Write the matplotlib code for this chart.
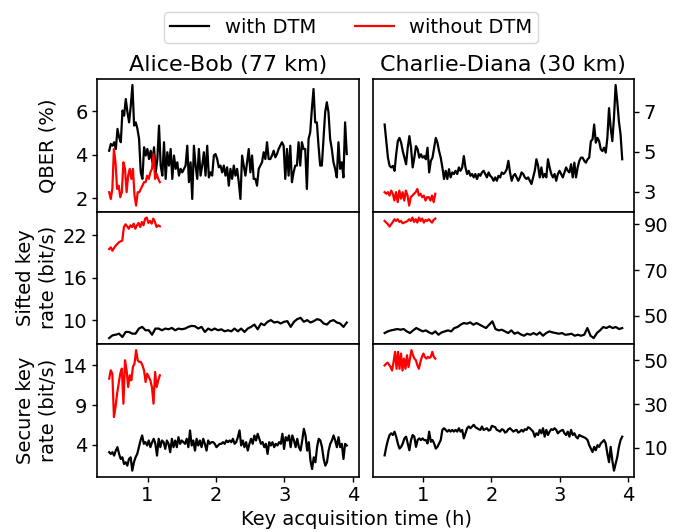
import numpy as np
import matplotlib
matplotlib.use("Agg")
import matplotlib.pyplot as plt

# QBER (%)
qber_ab_dtm = [4.18, 4.49, 4.41, 4.57, 4.26, 5.18, 4.79, 4.57, 6.02, 5.79, 6.55, 5.94, 5.48, 6.24, 7.19,
               5.33, 5.48, 5.18, 4.72, 3.19, 2.89, 4.34, 3.96, 4.26, 3.80, 4.18, 3.65, 4.34, 3.19, 3.80,
               5.33, 3.50, 3.04, 4.57, 2.89, 4.11, 3.50, 4.26, 2.89, 3.96, 3.35, 3.65, 3.04, 3.35, 3.19,
               3.35, 3.50, 4.41, 2.74, 3.65, 1.97, 4.41, 3.50, 2.89, 4.26, 3.04, 3.50, 4.11, 3.04, 4.41,
               2.96, 3.19, 3.04, 3.96, 4.03, 3.80, 3.42, 3.50, 3.19, 3.50, 3.04, 3.42, 2.58,
               3.35, 2.89, 3.50, 3.04, 3.35, 2.74, 1.97, 3.96, 3.50, 3.04, 3.65, 4.26, 3.19, 3.96, 2.89,
               2.89, 2.58, 3.35, 3.50, 3.65, 4.11, 3.80, 4.57, 3.80, 3.80, 3.96, 4.18, 3.88, 4.03, 4.26,
               4.41, 4.57, 4.41, 2.89, 4.26, 3.04, 4.41, 2.74, 3.19, 3.50, 3.50, 4.57, 3.50, 4.57, 4.26,
               4.26, 2.43, 4.72, 5.02, 6.09, 7.01, 5.48, 5.48, 4.41, 3.50, 3.50, 4.72, 5.94, 6.40, 5.94,
               4.72, 4.26, 3.65, 3.35, 2.96, 4.57, 3.35, 3.65, 2.96, 5.48, 4.03]
qber_ab_no = [2.28, 1.97, 2.43, 4.26, 3.65, 2.43, 2.58, 2.05, 2.28, 3.65, 3.35, 2.28, 3.04, 3.35, 2.89,
              3.35, 2.13, 1.67, 2.28, 2.28, 2.43, 2.58, 2.74, 2.74, 3.04, 2.89, 3.19, 3.35, 4.03, 2.89,
              3.12, 2.89, 2.74]
qber_cd_dtm = [6.36, 5.53, 4.70, 4.29, 4.21, 4.29, 4.04, 4.87, 5.53, 5.69, 5.45, 5.03, 4.70, 4.37, 5.20,
               5.78, 5.20, 4.21, 4.70, 5.28, 5.12, 4.70, 4.87, 4.70, 4.78, 4.62, 5.20, 3.96, 4.54, 4.70,
               5.20, 5.69, 5.45, 5.03, 4.70, 4.21, 3.63, 4.04, 3.63, 4.12, 3.71, 3.96, 3.88, 4.04, 3.88,
               4.21, 4.04, 4.21, 4.78, 4.21, 3.88, 4.04, 3.79, 3.88, 3.71, 3.88, 3.63, 3.88, 3.79, 3.96,
               4.04, 3.88, 3.71, 3.96, 3.79, 3.71, 3.54, 3.71, 3.54, 3.79, 3.71, 3.96, 3.88, 3.96,
               4.12, 4.54, 3.96, 3.54, 3.79, 3.88, 3.71, 3.54, 3.71, 3.96, 3.88, 3.71, 3.63, 3.71, 3.54,
               3.38, 3.71, 4.04, 4.62, 4.29, 3.71, 4.21, 3.71, 3.88, 3.71, 4.62, 4.21, 3.88, 3.71, 3.88,
               3.54, 3.88, 4.04, 3.88, 3.71, 3.96, 4.21, 4.04, 3.96, 4.37, 3.71, 4.45, 3.71, 4.21, 4.54,
               4.70, 4.70, 4.54, 4.45, 4.62, 4.70, 5.53, 5.61, 6.36, 5.45, 5.69, 5.53, 5.12, 5.03, 5.20,
               4.95, 5.69, 7.18, 6.19, 5.53, 6.69, 8.34, 7.51, 6.52, 5.86, 4.62]
qber_cd_no = [2.97, 2.89, 2.97, 2.80, 3.05, 2.89, 2.55, 2.97, 2.47, 3.05, 2.64, 2.97, 2.55, 3.05, 2.80,
              2.30, 2.72, 2.80, 2.89, 2.97, 3.13, 2.80, 2.89, 2.72, 2.80, 2.55, 2.72, 2.72, 2.55, 2.80,
              2.47, 2.89]

# Sifted key rate (bit/s)
sifted_ab_dtm = [7.45, 7.84, 7.93, 8.08, 7.60, 8.32, 8.32, 8.08, 8.08, 8.80, 9.04, 8.56, 8.56, 7.93, 8.80,
                 8.80, 8.56, 8.80, 8.70, 8.89, 8.56, 8.80, 8.70, 8.80, 9.04, 9.18, 9.13, 8.80, 9.04, 8.32,
                 8.80, 8.56, 8.80, 8.56, 8.70, 8.41, 8.56, 8.41, 8.80, 8.41, 8.80, 8.32, 8.80, 9.04, 9.37,
                 8.70, 9.52, 9.28, 9.76, 10.00, 9.66, 9.76, 9.52, 9.76, 9.85, 9.04, 9.76, 10.14, 10.33, 9.76,
                 10.00, 9.66, 9.85, 10.14, 10.00, 9.52, 9.37, 9.85, 10.00, 9.66, 9.52, 9.04, 9.66]
sifted_ab_no = [20.08, 20.32, 19.84, 20.22, 20.56, 20.80, 21.04, 21.18, 21.28, 23.20, 23.58, 23.30, 22.96,
                23.44, 23.20, 23.68, 22.96, 23.44, 23.78, 23.20, 23.92, 23.44, 24.40, 24.54, 23.78, 24.06,
                23.68, 24.40, 23.92, 23.20, 23.44, 23.30]
sifted_cd_dtm = [42.49, 43.22, 43.66, 43.95, 44.24, 43.95, 44.24, 43.22, 42.49, 43.66, 44.68, 43.95, 43.22,
                 43.66, 42.78, 42.19, 43.22, 41.75, 42.78, 43.22, 43.66, 43.22, 44.68, 45.12, 46.14, 46.87,
                 46.58, 47.16, 46.14, 46.87, 46.14, 45.41, 44.68, 46.14, 47.60, 44.24, 43.66, 43.95, 43.22,
                 42.49, 43.66, 42.19, 42.78, 41.90, 41.32, 42.19, 41.75, 42.49, 41.75, 42.78, 41.32, 42.49,
                 43.22, 42.78, 42.49, 42.19, 42.49, 41.75, 41.90, 42.19, 41.32, 41.75, 41.32, 41.75, 44.68,
                 41.32, 40.29, 42.49, 43.66, 45.12, 44.68, 45.41, 44.68, 45.12, 44.24, 44.68]
sifted_cd_no = [91.46, 90.73, 90.00, 88.98, 90.00, 91.02, 92.19, 91.46, 92.19, 91.02, 91.46, 90.44, 90.73,
                91.02, 91.46, 92.19, 91.46, 92.92, 91.02, 92.19, 90.73, 92.92, 91.46, 92.49, 90.73, 91.90,
                91.46, 92.19, 91.46, 90.73, 91.90, 92.49]

# Secure key rate (bit/s)
secure_ab_dtm = [3.08, 2.86, 3.08, 2.65, 3.28, 3.71, 2.86, 2.23, 2.44, 1.60, 1.81, 1.39, 2.23, 2.44, 0.76,
                 1.81, 2.44, 2.86, 3.71, 4.55, 5.18, 4.13, 4.34, 3.92, 4.55, 3.71, 4.34, 4.76, 4.13, 2.65,
                 4.76, 3.71, 4.55, 4.34, 3.49, 4.55, 4.13, 3.08, 4.76, 3.71, 4.55, 3.71, 4.97, 4.13, 4.55,
                 4.34, 4.13, 4.76, 3.71, 5.81, 3.92, 4.55, 3.28, 4.76, 3.92, 4.55, 3.71, 4.76, 4.13, 3.28,
                 4.55, 4.13, 4.34, 4.34, 4.13, 3.71, 3.92, 4.13, 4.13, 4.34, 4.13, 4.55, 4.34,
                 4.55, 4.34, 4.76, 4.13, 4.34, 4.97, 5.81, 3.92, 4.55, 3.71, 4.34, 3.28, 4.13, 4.76, 4.13,
                 5.18, 4.55, 5.39, 4.76, 4.13, 4.34, 3.71, 4.13, 2.86, 4.34, 3.92, 4.34, 3.71, 4.13, 3.92,
                 4.34, 4.13, 5.39, 3.49, 4.97, 4.55, 5.18, 3.71, 5.18, 4.55, 3.71, 4.76, 3.71, 3.28, 4.55,
                 6.02, 5.18, 3.28, 4.34, 2.02, 0.97, 2.44, 1.81, 3.71, 4.76, 4.55, 3.71, 2.23, 1.39, 1.81,
                 3.28, 4.13, 4.55, 5.18, 4.55, 3.71, 4.97, 3.71, 4.13, 2.23, 4.13, 3.92]
secure_ab_no = [12.32, 13.37, 12.95, 7.49, 8.75, 10.43, 11.69, 12.95, 13.58, 9.17, 14.63, 13.37, 11.27,
                12.74, 12.11, 13.79, 14.21, 15.90, 14.63, 14.42, 14.42, 14.00, 13.37, 11.90, 12.95, 12.53,
                12.11, 11.27, 9.17, 13.16, 11.27, 12.11, 12.74]
secure_cd_dtm = [6.60, 10.48, 13.58, 15.90, 16.68, 15.90, 17.45, 15.13, 12.03, 9.70, 10.48, 12.03, 14.35,
                 15.13, 12.03, 8.93, 13.58, 15.90, 15.13, 10.48, 13.58, 14.35, 13.58, 14.35, 13.58, 13.58,
                 12.03, 17.45, 12.80, 13.58, 12.03, 9.70, 10.48, 12.03, 13.58, 18.23, 19.00, 18.23, 17.45,
                 18.23, 17.45, 18.23, 17.45, 18.23, 17.45, 19.00, 17.45, 18.23, 14.35, 16.68, 19.00, 19.78,
                 19.00, 19.78, 20.56, 19.47, 19.00, 18.54, 18.23, 19.78, 18.23, 18.54, 19.00, 17.92, 18.23,
                 20.09, 19.78, 19.47, 18.23, 17.92, 17.45, 18.54, 18.23, 16.99, 17.45, 18.54, 19.00, 18.23,
                 17.45, 17.92, 18.23, 16.99, 17.45, 18.23, 17.45, 18.54, 18.23, 19.47, 19.00, 18.23, 17.45,
                 15.13, 16.68, 15.90, 18.23, 16.68, 19.00, 15.13, 18.23, 15.90, 17.45, 18.54, 18.23, 19.00,
                 18.23, 16.68, 17.45, 17.92, 18.23, 16.68, 15.90, 17.45, 15.13, 18.23, 15.90, 16.68, 15.13,
                 14.35, 15.90, 15.44, 15.13, 14.82, 14.35, 13.58, 11.25, 9.70, 8.15, 10.48, 8.93, 11.25,
                 10.48, 12.03, 12.80, 13.58, 12.03, 7.38, 3.50, 10.48, 4.28, -0.38, 2.73, 5.83, 10.48,
                 13.58, 15.13]
secure_cd_no = [47.69, 48.46, 48.93, 48.00, 46.91, 45.36, 49.24, 53.89, 46.14, 53.89, 46.14, 53.11, 45.36,
                50.79, 46.14, 52.34, 46.91, 50.79, 54.66, 52.34, 50.79, 50.01, 47.69, 46.14, 49.24, 51.56,
                53.11, 51.56, 50.79, 51.56, 51.10, 51.56, 53.89, 51.56, 50.79]

t_start, t_end, t_end_red = 0.44, 3.91, 1.18

ylabels = ["QBER (%)", "Sifted key\nrate (bit/s)", "Secure key\nrate (bit/s)"]
yticks_ab = [[2, 4, 6], [10, 16, 22], [4, 9, 14]]
yticks_cd = [[3, 5, 7], [50, 70, 90], [10, 30, 50]]

plt.rcParams['font.size'] = 14
plt.rcParams['axes.linewidth'] = 1.2

fig, axes = plt.subplots(3, 2, figsize=(6.93, 5.32), dpi=100, sharex=True)
fig.subplots_adjust(left=0.1404, right=0.915, top=0.8515, bottom=0.104, hspace=0, wspace=0.054)

rows = [(qber_ab_dtm, qber_ab_no, qber_cd_dtm, qber_cd_no),
        (sifted_ab_dtm, sifted_ab_no, sifted_cd_dtm, sifted_cd_no),
        (secure_ab_dtm, secure_ab_no, secure_cd_dtm, secure_cd_no)]

for i, (ab_d, ab_n, cd_d, cd_n) in enumerate(rows):
    axl, axr = axes[i]
    for ax, d, n in [(axl, ab_d, ab_n), (axr, cd_d, cd_n)]:
        ax.plot(np.linspace(t_start, t_end, len(d)), d, color='k', lw=1.6)
        ax.plot(np.linspace(t_start, t_end_red, len(n)), n, color='r', lw=1.6)
        ax.tick_params(width=1.0)
        if i < 2:
            ax.tick_params(axis='x', bottom=False)
    axl.set_yticks(yticks_ab[i])
    axr.set_yticks(yticks_cd[i])
    axr.yaxis.tick_right()
    axl.set_ylabel(ylabels[i])

axes[2, 0].set_xticks([1, 2, 3, 4])
axes[0, 0].set_title("Alice-Bob (77 km)", fontsize=16)
axes[0, 1].set_title("Charlie-Diana (30 km)", fontsize=16)
fig.align_ylabels(axes[:, 0])

fig.text(0.515, 0.024, "Key acquisition time (h)", ha='center', va='center')

h1, = axes[0, 0].plot([], [], color='k', lw=1.6)
h2, = axes[0, 0].plot([], [], color='r', lw=1.6)
fig.legend([h1, h2], ["with DTM", "without DTM"], loc='upper center',
           bbox_to_anchor=(0.507, 0.995), ncol=2, borderpad=0.3)

fig.savefig("out.png", dpi=100)
